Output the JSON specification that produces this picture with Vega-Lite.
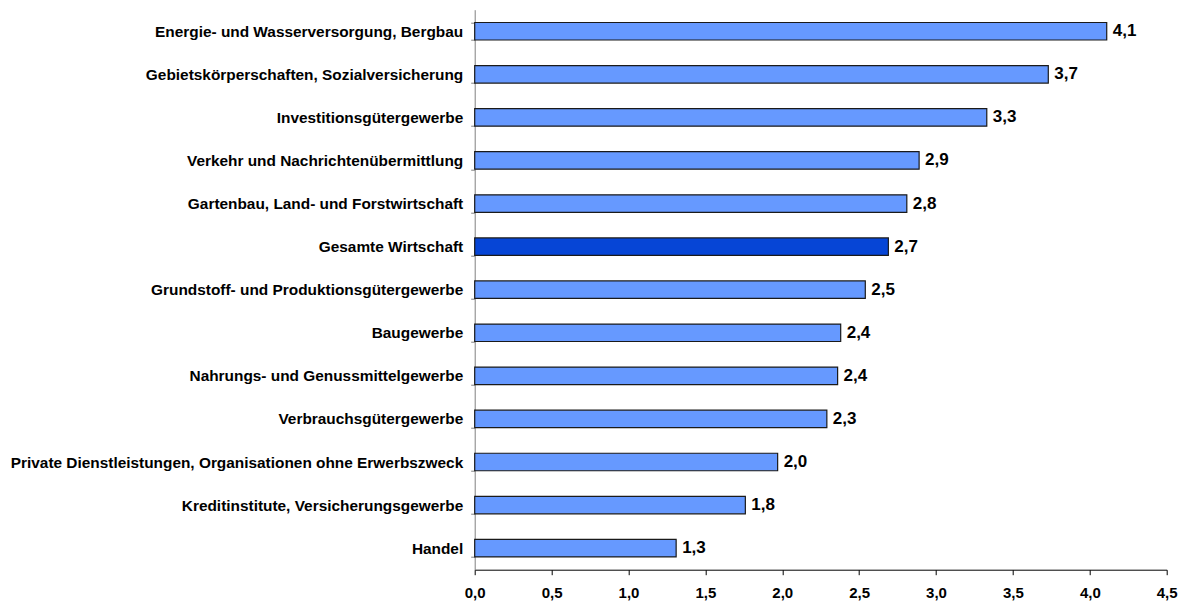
{
  "$schema": "https://vega.github.io/schema/vega-lite/v6.json",
  "autosize": {"type": "none"},
  "padding": {"left": 474.7, "top": 9.7, "right": 19.3, "bottom": 33.3},
  "width": 692,
  "height": 560,
  "data": {
    "values": [
      {"bereich": "Energie- und Wasserversorgung, Bergbau", "wert": 4.11, "gruppe": "Branche"},
      {"bereich": "Gebietskörperschaften, Sozialversicherung", "wert": 3.73, "gruppe": "Branche"},
      {"bereich": "Investitionsgütergewerbe", "wert": 3.33, "gruppe": "Branche"},
      {"bereich": "Verkehr und Nachrichtenübermittlung", "wert": 2.89, "gruppe": "Branche"},
      {"bereich": "Gartenbau, Land- und Forstwirtschaft", "wert": 2.81, "gruppe": "Branche"},
      {"bereich": "Gesamte Wirtschaft", "wert": 2.69, "gruppe": "Gesamt"},
      {"bereich": "Grundstoff- und Produktionsgütergewerbe", "wert": 2.54, "gruppe": "Branche"},
      {"bereich": "Baugewerbe", "wert": 2.38, "gruppe": "Branche"},
      {"bereich": "Nahrungs- und Genussmittelgewerbe", "wert": 2.36, "gruppe": "Branche"},
      {"bereich": "Verbrauchsgütergewerbe", "wert": 2.29, "gruppe": "Branche"},
      {"bereich": "Private Dienstleistungen, Organisationen ohne Erwerbszweck", "wert": 1.97, "gruppe": "Branche"},
      {"bereich": "Kreditinstitute, Versicherungsgewerbe", "wert": 1.76, "gruppe": "Branche"},
      {"bereich": "Handel", "wert": 1.31, "gruppe": "Branche"}
    ]
  },
  "encoding": {
    "y": {
      "field": "bereich",
      "type": "nominal",
      "sort": {"field": "wert", "order": "descending"},
      "scale": {"paddingInner": 0.594, "paddingOuter": 0.297},
      "axis": {
        "title": null,
        "tickBand": "extent",
        "tickSize": 4,
        "tickColor": "#808080",
        "domainColor": "#808080",
        "labelPadding": 8,
        "labelFont": "Liberation Sans",
        "labelFontWeight": "bold",
        "labelFontSize": 15.4,
        "labelColor": "#000000",
        "labelLimit": 0
      }
    },
    "x": {
      "field": "wert",
      "type": "quantitative",
      "scale": {"domain": [0, 4.5], "nice": false, "zero": true},
      "axis": {
        "title": null,
        "values": [0, 0.5, 1, 1.5, 2, 2.5, 3, 3.5, 4, 4.5],
        "format": ".1f",
        "grid": false,
        "tickSize": 5,
        "tickColor": "#000000",
        "domainColor": "#000000",
        "labelPadding": 11,
        "labelFont": "Liberation Sans",
        "labelFontWeight": "bold",
        "labelFontSize": 15,
        "labelColor": "#000000",
        "labelFlush": false
      }
    }
  },
  "layer": [
    {
      "mark": {"type": "bar", "stroke": "#1a1a1a", "strokeWidth": 1.2},
      "encoding": {
        "color": {
          "field": "gruppe",
          "type": "nominal",
          "scale": {"domain": ["Branche", "Gesamt"], "range": ["#6699FF", "#0645D6"]},
          "legend": null
        }
      }
    },
    {
      "mark": {"type": "text", "align": "left", "baseline": "middle", "dx": 6, "font": "Liberation Sans", "fontWeight": "bold", "fontSize": 17, "color": "#000000"},
      "encoding": {
        "text": {"field": "wert", "type": "quantitative", "format": ".1f"}
      }
    }
  ],
  "config": {
    "view": {"stroke": null},
    "locale": {"number": {"decimal": ",", "thousands": ".", "grouping": [3], "currency": ["", " €"]}}
  }
}
